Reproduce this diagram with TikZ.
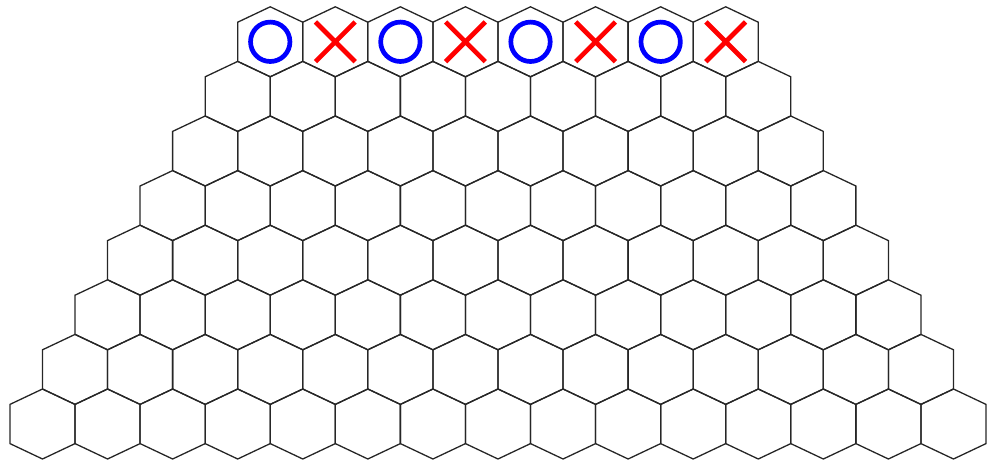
\documentclass[tikz,border=0pt]{standalone}
\usetikzlibrary{shapes.misc}
\definecolor{oblue}{RGB}{0,0,255}
\definecolor{xred}{RGB}{255,0,0}
\begin{document}
\begin{tikzpicture}[x=1pt,y=-1pt,
  hexline/.style={line width=1.3pt, draw=black!85, line join=miter},
  omark/.style={circle, draw=oblue, line width=4.7pt, minimum size=39.4pt, inner sep=0pt},
  xmark/.style={cross out, draw=xred, line width=4.7pt, minimum size=35pt, inner sep=0pt}]
\useasboundingbox (0,0) rectangle (999,465);
\def\HW{32.535}
\def\W{65.07}
\def\S{54.6}
\foreach \k in {0,...,7}{
  \pgfmathtruncatemacro\n{8+\k-1}
  \foreach \i in {0,...,\n}{
    \pgfmathsetmacro\cx{237.7-\k*\HW+\HW+\i*\W}
    \pgfmathsetmacro\cy{41.8+\k*\S}
    \draw[hexline] (\cx,\cy-35) -- (\cx+\HW,\cy-19.6) -- (\cx+\HW,\cy+19.6) -- (\cx,\cy+35) -- (\cx-\HW,\cy+19.6) -- (\cx-\HW,\cy-19.6) -- cycle;
  }
}
\node[omark] (o1) at (270.24,41.8) {};
\node[xmark] (x1) at (335.31,41.8) {};
\node[omark] (o2) at (400.38,41.8) {};
\node[xmark] (x2) at (465.45,41.8) {};
\node[omark] (o3) at (530.52,41.8) {};
\node[xmark] (x3) at (595.59,41.8) {};
\node[omark] (o4) at (660.66,41.8) {};
\node[xmark] (x4) at (725.73,41.8) {};
\end{tikzpicture}
\end{document}
